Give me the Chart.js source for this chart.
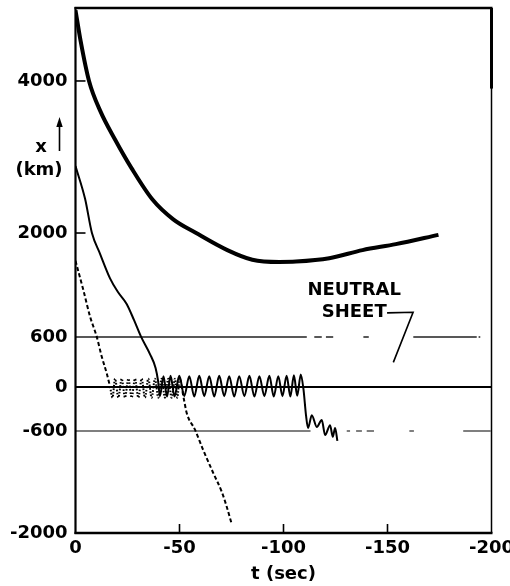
<!DOCTYPE html>
<html><head><meta charset="utf-8">
<script src="https://cdn.jsdelivr.net/npm/chart.js@4.4.1/dist/chart.umd.min.js"></script>
<style>html,body{margin:0;padding:0;background:#fff;}canvas{display:block;}</style>
</head><body>
<canvas id="c" width="510" height="586"></canvas>
<script>
// ---------- data (t in sec, x in km) ----------
const xTicks = [0, -50, -100, -150, -200];
const yTicks = [4000, 2000, 600, 0, -600, -2000];
const xInnerTicks = [-50, -100, -150];
const yInnerTicks = [4000, 2000];

const tThick = [0, -2.5, -6.5, -12, -19, -27, -37, -47, -58, -73, -85, -98, -106, -122, -138, -154, -174.5];
const xThick = [4930, 4520, 4000, 3600, 3230, 2850, 2440, 2180, 2000, 1770, 1640, 1610, 1615, 1660, 1770, 1850, 1975];

const tSolid = [0, -4.6, -7.9, -11.8, -16.6, -20.4, -24.6, -28.1, -31.5, -35.8, -38.5, -39.7,
  -40.6, -42.3, -44.0, -45.7, -47.6, -49.9, -52.3, -54.7, -57.1, -59.5, -61.9, -64.3, -66.7, -69.1,
  -71.5, -73.9, -76.3, -78.7, -81.2, -83.6, -86.0, -88.4, -90.8, -93.2, -95.3, -97.5, -99.5, -101.5,
  -103.3, -105.0, -106.6, -108.3,
  -109.6, -110.8, -111.8, -113.6, -116.0, -118.4, -120.0, -122.4, -123.7, -124.8, -125.9];
const xSolid = [2880, 2450, 2000, 1720, 1390, 1205, 1045, 830, 605, 395, 228, 72,
  -125, 130, -130, 135, -130, 135, -125, 130, -130, 135, -125, 130, -130, 135,
  -125, 130, -130, 130, -125, 135, -130, 130, -125, 135, -130, 130, -125, 135,
  -130, 140, -120, 150,
  -30, -380, -560, -385, -545, -450, -655, -520, -680, -560, -735];

const tDashed = [0, -3.75, -7.0, -10.2, -12.6, -15.0, -16.6, -17.8,
  -19.0, -20.6, -22.2, -23.8, -25.4, -27.0, -28.6, -30.2, -31.8, -33.4, -35.0, -36.6, -38.2,
  -39.8, -41.4, -43.0, -44.6, -46.2, -47.8, -48.9, -50.1,
  -52.0, -53.5, -57.5, -61.4, -66.3, -70.3, -72.7, -75.1];
const xDashed = [1625, 1235, 875, 605, 365, 165, 5, -145,
  100, -145, 100, -145, 100, -145, 100, -145, 100, -145, 100, -145, 100,
  -145, 100, -145, 100, -145, 100, -145, 100,
  -150, -358, -586, -861, -1181, -1433, -1639, -1877];

// reference levels drawn with breaks [from t, to t]
const runs600 = [[0, -111.2], [-114.8, -118.4], [-120.4, -123.9], [-138.4, -141], [-162.4, -192.9], [-193.8, -194.6]];
const runs0 = [[0, -200]];
const runsM600 = [[0, -113], [-130.4, -132], [-134.9, -137.7], [-140, -143.5], [-160.5, -162.7], [-186.4, -199.6]];

const sheetText = ['NEUTRAL', 'SHEET'];
const sheetTextAt = [[-134, 1235], [-134, 935]];
const sheetPointer = [[-149.8, 925], [-162.3, 933], [-152.8, 296]];

// y axis calibration (the original axis is not uniformly spaced)
const yKnotValues = [-2000, -600, 0, 600, 2000, 4000, 4960];
const yKnotFracs = [0, 0.1943, 0.2781, 0.3733, 0.5714, 0.8610, 1];

// ---------- custom piecewise scale ----------
function interp(v, xs, ys) {
  let i = 0;
  if (v <= xs[0]) i = 0;
  else if (v >= xs[xs.length - 1]) i = xs.length - 2;
  else { while (i < xs.length - 2 && v > xs[i + 1]) i++; }
  return ys[i] + (v - xs[i]) * (ys[i + 1] - ys[i]) / (xs[i + 1] - xs[i]);
}
class PiecewiseScale extends Chart.LinearScale {
  static id = 'piecewise';
  getPixelForValue(value) {
    return this.getPixelForDecimal(interp(value, yKnotValues, yKnotFracs));
  }
  getValueForPixel(pixel) {
    return interp(this.getDecimalForPixel(pixel), yKnotFracs, yKnotValues);
  }
}
Chart.register(PiecewiseScale);

// ---------- helpers ----------
const pts = (ts, vs) => ts.map((t, i) => ({x: t, y: vs[i]}));
function runsToPoints(runs, level) {
  const out = [];
  runs.forEach(([a, b]) => { out.push({x: a, y: level}, {x: b, y: level}, {x: b, y: null}); });
  return out;
}
const FONT = {family: '"DejaVu Sans", sans-serif', size: 18, weight: 'bold'};

const decor = {
  id: 'decor',
  afterDraw(chart) {
    const {ctx, chartArea: a, scales: {x, y}} = chart;
    ctx.save();
    ctx.strokeStyle = '#000'; ctx.fillStyle = '#000';
    const seg = (x1, y1, x2, y2, w) => { ctx.lineWidth = w; ctx.beginPath(); ctx.moveTo(x1, y1); ctx.lineTo(x2, y2); ctx.stroke(); };
    // frame
    const yTop = y.getPixelForValue(4960);
    seg(a.left - 1, yTop, a.right + 1, yTop, 2.4);
    seg(a.left, yTop - 1, a.left, a.bottom + 1, 2.2);
    seg(a.left - 1, a.bottom, a.right + 1, a.bottom, 2.4);
    seg(a.right, yTop, a.right, a.bottom, 1.5);
    seg(a.right, yTop, a.right, y.getPixelForValue(3900), 3);
    // inward ticks
    xInnerTicks.forEach(t => { const px = x.getPixelForValue(t); seg(px, a.bottom, px, a.bottom - 9, 1.6); });
    yInnerTicks.forEach(v => { const py = y.getPixelForValue(v); seg(a.left, py, a.left + 10, py, 1.6); });
    // y title
    ctx.font = 'bold 18px "DejaVu Sans"';
    ctx.textAlign = 'center'; ctx.textBaseline = 'middle';
    ctx.fillText('x', 41, 147);
    ctx.fillText('(km)', 39, 170);
    seg(59.5, 124, 59.5, 151, 1.6);
    ctx.beginPath(); ctx.moveTo(59.5, 117); ctx.lineTo(56.3, 127); ctx.lineTo(62.7, 127); ctx.closePath(); ctx.fill();
    // neutral sheet label
    sheetText.forEach((s, i) => ctx.fillText(s, x.getPixelForValue(sheetTextAt[i][0]), y.getPixelForValue(sheetTextAt[i][1])));
    ctx.lineWidth = 1.6; ctx.beginPath();
    sheetPointer.forEach(([t, v], i) => {
      const px = x.getPixelForValue(t), py = y.getPixelForValue(v);
      if (i === 0) ctx.moveTo(px, py); else ctx.lineTo(px, py);
    });
    ctx.stroke();
    ctx.restore();
  }
};

new Chart(document.getElementById('c'), {
  type: 'line',
  data: {
    datasets: [
      {data: pts(tThick, xThick), borderColor: '#000', borderWidth: 4, pointRadius: 0, cubicInterpolationMode: 'monotone', order: 1},
      {data: pts(tSolid, xSolid), borderColor: '#000', borderWidth: 2, pointRadius: 0, cubicInterpolationMode: 'monotone', order: 2},
      {data: pts(tDashed, xDashed), borderColor: '#000', borderWidth: 2, pointRadius: 0, cubicInterpolationMode: 'monotone', order: 3,
        segment: {borderDash: c => (c.p0.parsed.x <= -16.5 && c.p1.parsed.x >= -50.2) ? [1.6, 1.6] : [4, 2.5]}},
      {data: runsToPoints(runs600, 600), borderColor: '#222', borderWidth: 1.3, pointRadius: 0, tension: 0, order: 5},
      {data: runsToPoints(runs0, 0), borderColor: '#000', borderWidth: 2, pointRadius: 0, tension: 0, order: 4},
      {data: runsToPoints(runsM600, -600), borderColor: '#555', borderWidth: 1.3, pointRadius: 0, tension: 0, order: 6}
    ]
  },
  options: {
    responsive: false,
    animation: false,
    devicePixelRatio: 1,
    layout: {padding: {left: 0, right: 18.5, top: 8, bottom: 0}},
    plugins: {legend: {display: false}, tooltip: {enabled: false}},
    scales: {
      x: {
        type: 'linear', min: -200, max: 0, reverse: true,
        afterBuildTicks: s => { s.ticks = xTicks.map(v => ({value: v})); },
        afterFit: s => { s.paddingLeft = 0; s.paddingRight = 0; s.height = 53; },
        ticks: {callback: v => String(v), font: FONT, color: '#000', padding: 5, maxRotation: 0, autoSkip: false},
        grid: {display: false, drawTicks: false},
        border: {display: false},
        title: {display: true, text: 't (sec)', font: FONT, color: '#000', padding: {top: 0, bottom: 1}}
      },
      y: {
        type: 'piecewise', min: -2000, max: 4960,
        afterBuildTicks: s => { s.ticks = yTicks.map(v => ({value: v})); },
        afterFit: s => { s.width = 75.5; s.paddingTop = 0; s.paddingBottom = 0; },
        ticks: {callback: v => String(v), font: FONT, color: '#000', padding: 8, autoSkip: false},
        grid: {display: false, drawTicks: false},
        border: {display: false}
      }
    }
  },
  plugins: [decor]
});
</script>
</body></html>
